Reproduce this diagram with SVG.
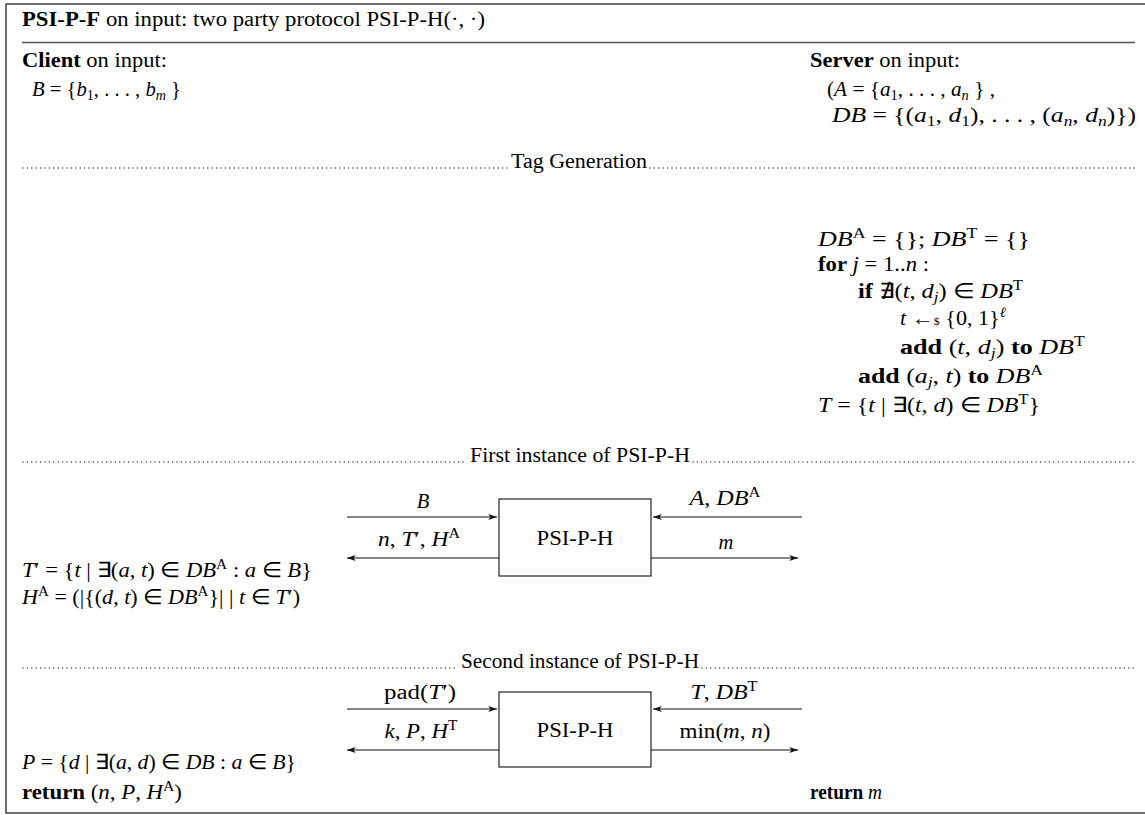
<svg xmlns="http://www.w3.org/2000/svg" width="1145" height="815" viewBox="0 0 1145 815">
<style>
text{font-family:"Liberation Serif","Times New Roman",serif;font-size:20.5px;fill:#000}
.b{font-weight:bold}
.i{font-style:italic}
.s{font-size:14px}
.m{text-anchor:middle}
.frame{fill:none;stroke:#333;stroke-width:1.4}
.rule{stroke:#555;stroke-width:1.4}
.box{fill:#fff;stroke:#222;stroke-width:1.2}
.arr{stroke:#111;stroke-width:1.1;fill:none;marker-end:url(#ah)}
.dots{stroke:#333;stroke-width:1.4;stroke-linecap:round;stroke-dasharray:0 4.4;fill:none}
</style>
<defs>
<marker id="ah" viewBox="0 0 10 8" refX="10" refY="4" markerWidth="10" markerHeight="7" markerUnits="userSpaceOnUse" orient="auto">
<path d="M0,0.6 L10,4 L0,7.4 L2.6,4 z" fill="#111"/>
</marker>
</defs>
<rect class="frame" x="6" y="4" width="1142" height="809"/>
<g id="header">
<text x="22" y="26" textLength="463" lengthAdjust="spacingAndGlyphs"><tspan class="b">PSI-P-F</tspan> on input: two party protocol PSI-P-H(·, ·)</text>
<line class="rule" x1="22" y1="42.5" x2="1135" y2="42.5"/>
</g>
<g id="client-input">
<text x="22" y="67" textLength="145" lengthAdjust="spacingAndGlyphs"><tspan class="b">Client</tspan> on input:</text>
<text x="32" y="96" textLength="149" lengthAdjust="spacingAndGlyphs"><tspan class="i">B</tspan> = {<tspan class="i">b</tspan><tspan class="s" dy="4">1</tspan><tspan dy="-4">, . . . , </tspan><tspan class="i">b</tspan><tspan class="s i" dy="4">m</tspan><tspan dy="-4"> }</tspan></text>
</g>
<g id="server-input">
<text x="810" y="67" textLength="150" lengthAdjust="spacingAndGlyphs"><tspan class="b">Server</tspan> on input:</text>
<text x="827" y="96" textLength="168" lengthAdjust="spacingAndGlyphs">(<tspan class="i">A</tspan> = {<tspan class="i">a</tspan><tspan class="s" dy="4">1</tspan><tspan dy="-4">, . . . , </tspan><tspan class="i">a</tspan><tspan class="s i" dy="4">n</tspan><tspan dy="-4"> } ,</tspan></text>
<text x="832" y="122" textLength="304" lengthAdjust="spacingAndGlyphs"><tspan class="i">DB</tspan> = {(<tspan class="i">a</tspan><tspan class="s" dy="4">1</tspan><tspan dy="-4">, </tspan><tspan class="i">d</tspan><tspan class="s" dy="4">1</tspan><tspan dy="-4">), . . . , (</tspan><tspan class="i">a</tspan><tspan class="s i" dy="4">n</tspan><tspan dy="-4">, </tspan><tspan class="i">d</tspan><tspan class="s i" dy="4">n</tspan><tspan dy="-4">)})</tspan></text>
</g>
<g id="sep-tag-generation">
<path class="dots" d="M23,168 H508 M650,168 H1136"/>
<text class="m" x="579" y="168" textLength="136" lengthAdjust="spacingAndGlyphs">Tag Generation</text>
</g>
<g id="server-tag-block">
<text x="818" y="246" textLength="212" lengthAdjust="spacingAndGlyphs"><tspan class="i">DB</tspan><tspan class="s" dy="-8">A</tspan><tspan dy="8"> = {}; </tspan><tspan class="i">DB</tspan><tspan class="s" dy="-8">T</tspan><tspan dy="8"> = {}</tspan></text>
<text x="818" y="271" textLength="111" lengthAdjust="spacingAndGlyphs"><tspan class="b">for</tspan> <tspan class="i">j</tspan> = 1..<tspan class="i">n</tspan> :</text>
<text x="858" y="298" textLength="165" lengthAdjust="spacingAndGlyphs"><tspan class="b">if</tspan> ∄(<tspan class="i">t</tspan>, <tspan class="i">d</tspan><tspan class="s i" dy="4">j</tspan><tspan dy="-4">) ∈ </tspan><tspan class="i">DB</tspan><tspan class="s" dy="-8">T</tspan></text>
<text x="900" y="325" textLength="106" lengthAdjust="spacingAndGlyphs"><tspan class="i">t</tspan> ←<tspan font-size="11">$</tspan> {0, 1}<tspan class="s i" dy="-8">ℓ</tspan></text>
<text x="900" y="354" textLength="185" lengthAdjust="spacingAndGlyphs"><tspan class="b">add</tspan> (<tspan class="i">t</tspan>, <tspan class="i">d</tspan><tspan class="s i" dy="4">j</tspan><tspan dy="-4">) </tspan><tspan class="b">to</tspan> <tspan class="i">DB</tspan><tspan class="s" dy="-8">T</tspan></text>
<text x="858" y="383" textLength="185" lengthAdjust="spacingAndGlyphs"><tspan class="b">add</tspan> (<tspan class="i">a</tspan><tspan class="s i" dy="4">j</tspan><tspan dy="-4">, </tspan><tspan class="i">t</tspan>) <tspan class="b">to</tspan> <tspan class="i">DB</tspan><tspan class="s" dy="-8">A</tspan></text>
<text x="818" y="412" textLength="222" lengthAdjust="spacingAndGlyphs"><tspan class="i">T</tspan> = {<tspan class="i">t</tspan> | ∃(<tspan class="i">t</tspan>, <tspan class="i">d</tspan>) ∈ <tspan class="i">DB</tspan><tspan class="s" dy="-8">T</tspan><tspan dy="8">}</tspan></text>
</g>
<g id="sep-first-instance">
<path class="dots" d="M23,462 H467 M693,462 H1136"/>
<text class="m" x="580" y="462" textLength="220" lengthAdjust="spacingAndGlyphs">First instance of PSI-P-H</text>
</g>
<g id="psi-p-h-1">
<rect class="box" x="499" y="499" width="152" height="77"/>
<text class="m" x="575" y="545" textLength="77" lengthAdjust="spacingAndGlyphs">PSI-P-H</text>
</g>
<g id="client-first-results">
<text x="22" y="577" textLength="290" lengthAdjust="spacingAndGlyphs"><tspan class="i">T</tspan>′ = {<tspan class="i">t</tspan> | ∃(<tspan class="i">a</tspan>, <tspan class="i">t</tspan>) ∈ <tspan class="i">DB</tspan><tspan class="s" dy="-8">A</tspan><tspan dy="8"> : </tspan><tspan class="i">a</tspan> ∈ <tspan class="i">B</tspan>}</text>
<text x="22" y="604" textLength="278" lengthAdjust="spacingAndGlyphs"><tspan class="i">H</tspan><tspan class="s" dy="-8">A</tspan><tspan dy="8"> = (|{(</tspan><tspan class="i">d</tspan>, <tspan class="i">t</tspan>) ∈ <tspan class="i">DB</tspan><tspan class="s" dy="-8">A</tspan><tspan dy="8">}| | </tspan><tspan class="i">t</tspan> ∈ <tspan class="i">T</tspan>′)</text>
</g>
<g id="sep-second-instance">
<path class="dots" d="M23,668 H458 M702,668 H1136"/>
<text class="m" x="580" y="668" textLength="238" lengthAdjust="spacingAndGlyphs">Second instance of PSI-P-H</text>
</g>
<g id="psi-p-h-2">
<rect class="box" x="499" y="692" width="152" height="75"/>
<text class="m" x="575" y="737" textLength="77" lengthAdjust="spacingAndGlyphs">PSI-P-H</text>
</g>
<g id="client-second-results">
<text x="22" y="769" textLength="274" lengthAdjust="spacingAndGlyphs"><tspan class="i">P</tspan> = {<tspan class="i">d</tspan> | ∃(<tspan class="i">a</tspan>, <tspan class="i">d</tspan>) ∈ <tspan class="i">DB</tspan> : <tspan class="i">a</tspan> ∈ <tspan class="i">B</tspan>}</text>
<text x="22" y="799" textLength="160" lengthAdjust="spacingAndGlyphs"><tspan class="b">return</tspan> (<tspan class="i">n</tspan>, <tspan class="i">P</tspan>, <tspan class="i">H</tspan><tspan class="s" dy="-8">A</tspan><tspan dy="8">)</tspan></text>
</g>
<g id="server-return">
<text x="810" y="799" textLength="72" lengthAdjust="spacingAndGlyphs"><tspan class="b">return</tspan> <tspan class="i">m</tspan></text>
</g>
<g id="connectors">
<line class="arr" x1="347" y1="517" x2="497" y2="517"/>
<line class="arr" x1="499" y1="558" x2="347" y2="558"/>
<line class="arr" x1="802" y1="517" x2="653" y2="517"/>
<line class="arr" x1="651" y1="558" x2="798" y2="558"/>
<line class="arr" x1="347" y1="709" x2="497" y2="709"/>
<line class="arr" x1="499" y1="750" x2="347" y2="750"/>
<line class="arr" x1="802" y1="709" x2="653" y2="709"/>
<line class="arr" x1="651" y1="750" x2="798" y2="750"/>
<text class="m" x="423" y="508"><tspan class="i">B</tspan></text>
<text class="m" x="419" y="546" textLength="82" lengthAdjust="spacingAndGlyphs"><tspan class="i">n</tspan>, <tspan class="i">T</tspan>′, <tspan class="i">H</tspan><tspan class="s" dy="-8">A</tspan></text>
<text class="m" x="725" y="505" textLength="71" lengthAdjust="spacingAndGlyphs"><tspan class="i">A</tspan>, <tspan class="i">DB</tspan><tspan class="s" dy="-8">A</tspan></text>
<text class="m" x="726" y="549"><tspan class="i">m</tspan></text>
<text class="m" x="420" y="699" textLength="72" lengthAdjust="spacingAndGlyphs">pad(<tspan class="i">T</tspan>′)</text>
<text class="m" x="421" y="738" textLength="73" lengthAdjust="spacingAndGlyphs"><tspan class="i">k</tspan>, <tspan class="i">P</tspan>, <tspan class="i">H</tspan><tspan class="s" dy="-8">T</tspan></text>
<text class="m" x="724" y="699" textLength="67" lengthAdjust="spacingAndGlyphs"><tspan class="i">T</tspan>, <tspan class="i">DB</tspan><tspan class="s" dy="-8">T</tspan></text>
<text class="m" x="725" y="738" textLength="91" lengthAdjust="spacingAndGlyphs">min(<tspan class="i">m</tspan>, <tspan class="i">n</tspan>)</text>
</g>
</svg>
